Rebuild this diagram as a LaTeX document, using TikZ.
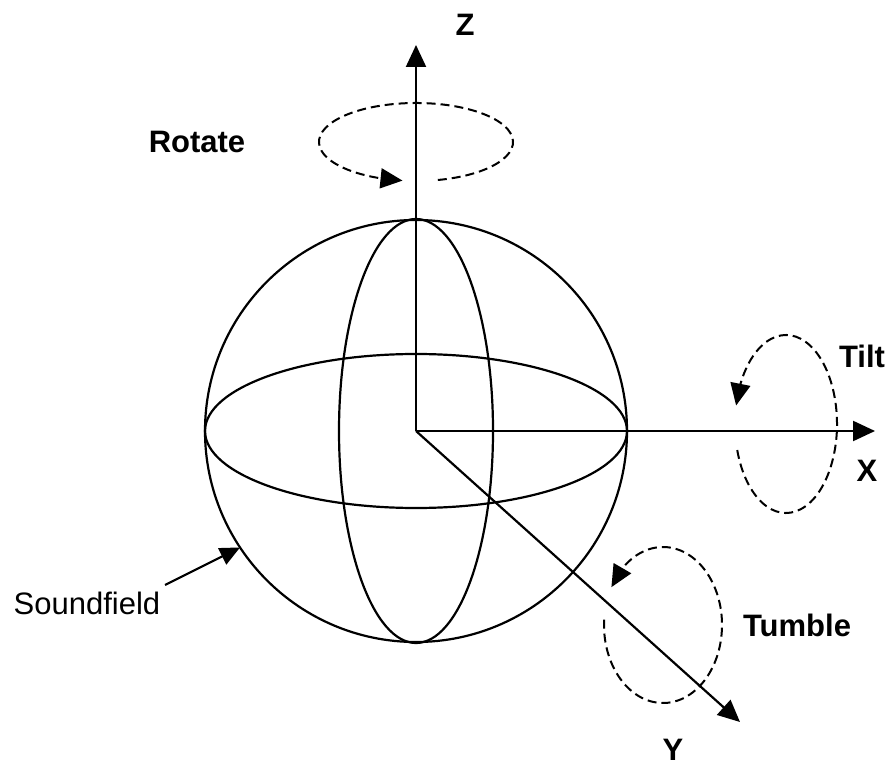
\documentclass[tikz,border=0pt]{standalone}
\usepackage{fontspec}
\setmainfont{Liberation Sans}
\usetikzlibrary{arrows.meta,bending,calc}
\begin{document}
\begin{tikzpicture}[x=1pt,y=1pt,
  solidline/.style={line width=2.2pt},
  tipped/.style={-{Triangle[length=22pt,width=20pt]}},
  turn/.style={line width=2pt, dash pattern=on 9pt off 5pt},
  lab/.style={font=\fontsize{31}{36}\selectfont\bfseries, inner sep=0pt},
  plainlab/.style={font=\fontsize{31}{36}\selectfont, inner sep=0pt}]
\useasboundingbox (0,0) rectangle (890,769);
\coordinate (O) at (416,338);
% sphere
\draw[solidline] (O) circle[radius=211];
\draw[solidline] (O) ellipse[x radius=211, y radius=77];
\draw[solidline] (O) ellipse[x radius=77, y radius=212];
% axes
\coordinate (Ztip) at (416,724);
\coordinate (Xtip) at (875,338);
\coordinate (Ytip) at (740,47);
\draw[solidline,tipped] (O) -- (Ztip);
\draw[solidline,tipped] (O) -- (Xtip);
\draw[solidline,tipped] (O) -- (Ytip);
\node[lab] (zlab) at (465,744) {Z};
\node[lab] (xlab) at (867,298) {X};
\node[lab] (ylab) at (673,19) {Y};
% rotate
\coordinate (Rc) at (416,627);
\draw[turn,tipped] (Rc) ++(-77:97 and 39) arc[start angle=-77, end angle=262, x radius=97, y radius=39];
\node[lab] (rotlab) at (197,627) {Rotate};
% tilt
\coordinate (Tc) at (786,345);
\draw[turn,tipped] (Tc) ++(197:51 and 89) arc[start angle=197, end angle=528, x radius=51, y radius=89];
\node[lab] (tiltlab) at (862,413) {Tilt};
% tumble
\coordinate (Uc) at (663,144);
\draw[turn,tipped] (Uc) ++(176:59 and 78) arc[start angle=176, end angle=511, x radius=59, y radius=78];
\node[lab] (tumlab) at (797,144) {Tumble};
% soundfield
\node[plainlab] (sflab) at (87,166) {Soundfield};
\coordinate (sfs) at (165,184);
\coordinate (sfe) at ($(O)+(213.5:211)$);
\draw[solidline,-{Triangle[length=20pt,width=18pt]}] (sfs) -- (sfe);
\end{tikzpicture}
\end{document}
